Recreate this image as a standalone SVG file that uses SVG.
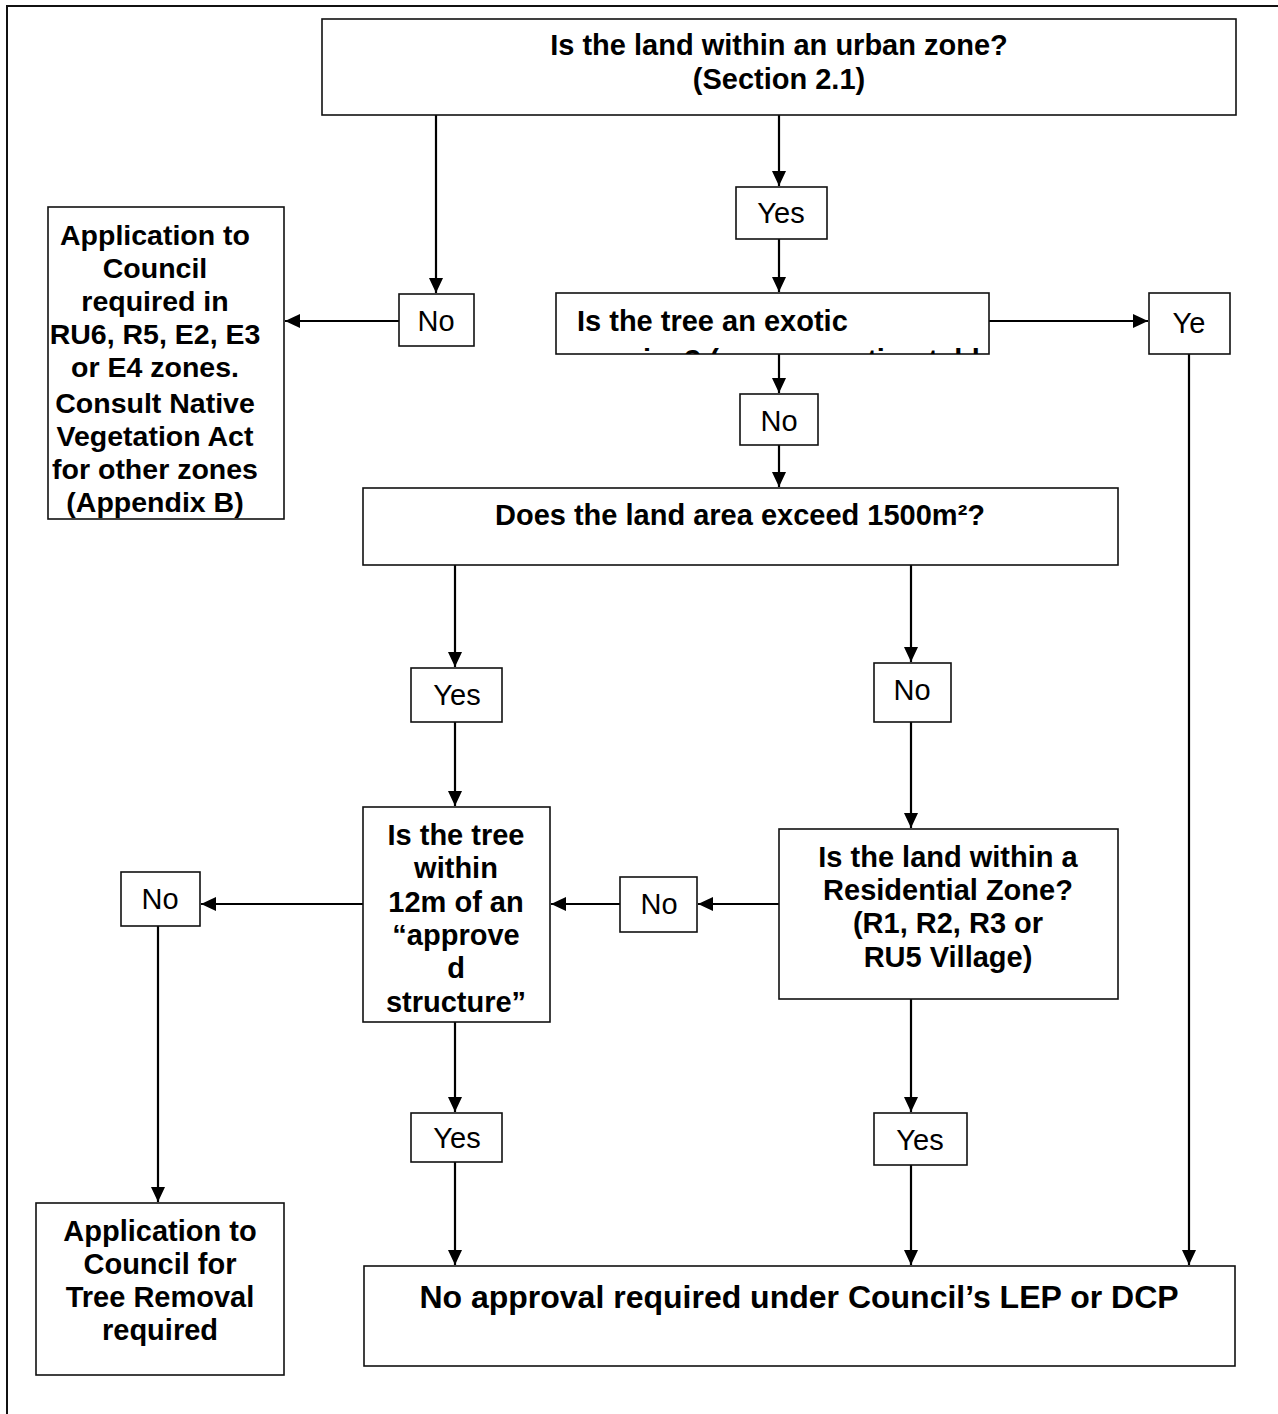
<svg xmlns="http://www.w3.org/2000/svg" width="1278" height="1414" viewBox="0 0 1278 1414">
<style>
.box{fill:#fff;stroke:#111;stroke-width:1.6}
.c{stroke:#000;stroke-width:2.2;fill:none}
.b{font-family:"Liberation Sans",Arial,sans-serif;font-weight:bold;font-size:29px;fill:#000;text-anchor:middle}
.bs{font-family:"Liberation Sans",Arial,sans-serif;font-weight:bold;font-size:29px;fill:#000}
.f{font-family:"Liberation Sans",Arial,sans-serif;font-weight:bold;font-size:32px;fill:#000;text-anchor:middle}
.l{font-family:"Liberation Sans",Arial,sans-serif;font-size:29px;fill:#000;text-anchor:middle}
</style>
<defs>
<marker id="ah" markerUnits="userSpaceOnUse" markerWidth="16" markerHeight="14" refX="15" refY="7" orient="auto">
<path d="M0,0 L15,7 L0,14 Z" fill="#000"/>
</marker>
<clipPath id="clipEx"><rect x="556" y="293" width="433" height="61"/></clipPath>
<clipPath id="clipApp"><rect x="48" y="207" width="236" height="312"/></clipPath>
</defs>
<path d="M7,1414 V6 H1278" fill="none" stroke="#111" stroke-width="2"/>

<g id="connectors">
<line class="c" x1="436" y1="115" x2="436" y2="293" marker-end="url(#ah)"/>
<line class="c" x1="399" y1="321" x2="285" y2="321" marker-end="url(#ah)"/>
<line class="c" x1="779" y1="115" x2="779" y2="186" marker-end="url(#ah)"/>
<line class="c" x1="779" y1="239" x2="779" y2="292" marker-end="url(#ah)"/>
<line class="c" x1="989" y1="321" x2="1148" y2="321" marker-end="url(#ah)"/>
<line class="c" x1="1189" y1="354" x2="1189" y2="1265" marker-end="url(#ah)"/>
<line class="c" x1="779" y1="354" x2="779" y2="393" marker-end="url(#ah)"/>
<line class="c" x1="779" y1="445" x2="779" y2="487" marker-end="url(#ah)"/>
<line class="c" x1="455" y1="565" x2="455" y2="667" marker-end="url(#ah)"/>
<line class="c" x1="455" y1="722" x2="455" y2="806" marker-end="url(#ah)"/>
<line class="c" x1="911" y1="565" x2="911" y2="662" marker-end="url(#ah)"/>
<line class="c" x1="911" y1="722" x2="911" y2="828" marker-end="url(#ah)"/>
<line class="c" x1="779" y1="904" x2="698" y2="904" marker-end="url(#ah)"/>
<line class="c" x1="620" y1="904" x2="551" y2="904" marker-end="url(#ah)"/>
<line class="c" x1="363" y1="904" x2="201" y2="904" marker-end="url(#ah)"/>
<line class="c" x1="158" y1="926" x2="158" y2="1202" marker-end="url(#ah)"/>
<line class="c" x1="455" y1="1022" x2="455" y2="1112" marker-end="url(#ah)"/>
<line class="c" x1="455" y1="1162" x2="455" y2="1265" marker-end="url(#ah)"/>
<line class="c" x1="911" y1="999" x2="911" y2="1112" marker-end="url(#ah)"/>
<line class="c" x1="911" y1="1165" x2="911" y2="1265" marker-end="url(#ah)"/>
</g>

<g id="n-urban">
<rect class="box" x="322" y="19" width="914" height="96"/>
<text class="b"><tspan x="779" y="55">Is the land within an urban zone?</tspan><tspan x="779" y="89">(Section 2.1)</tspan></text>
</g>
<g id="l-yes1">
<rect class="box" x="736" y="187" width="91" height="52"/>
<text class="l" x="781" y="223">Yes</text>
</g>
<g id="l-no1">
<rect class="box" x="399" y="294" width="75" height="52"/>
<text class="l" x="436" y="331">No</text>
</g>
<g id="n-app1">
<rect class="box" x="48" y="207" width="236" height="312"/>
<g clip-path="url(#clipApp)">
<text class="b" style="font-size:28.5px"><tspan x="155" y="245">Application to</tspan><tspan x="155" y="278">Council</tspan><tspan x="155" y="311">required in</tspan><tspan x="155" y="344">RU6, R5, E2, E3</tspan><tspan x="155" y="377">or E4 zones.</tspan><tspan x="155" y="413">Consult Native</tspan><tspan x="155" y="446">Vegetation Act</tspan><tspan x="155" y="479">for other zones</tspan><tspan x="155" y="512">(Appendix B)</tspan></text>
</g>
</g>
<g id="n-exotic">
<rect class="box" x="556" y="293" width="433" height="61"/>
<g clip-path="url(#clipEx)">
<text class="bs"><tspan x="577" y="331">Is the tree an exotic</tspan><tspan x="577" y="370">species? (see exemption table)</tspan></text>
</g>
</g>
<g id="l-ye">
<rect class="box" x="1149" y="293" width="81" height="61"/>
<text class="l" x="1189" y="333">Ye</text>
</g>
<g id="l-no2">
<rect class="box" x="740" y="394" width="78" height="51"/>
<text class="l" x="779" y="431">No</text>
</g>
<g id="n-area">
<rect class="box" x="363" y="488" width="755" height="77"/>
<text class="b" x="740" y="525">Does the land area exceed 1500m²?</text>
</g>
<g id="l-yes2">
<rect class="box" x="411" y="668" width="91" height="54"/>
<text class="l" x="457" y="705">Yes</text>
</g>
<g id="l-no3">
<rect class="box" x="874" y="663" width="77" height="59"/>
<text class="l" x="912" y="700">No</text>
</g>
<g id="n-structure">
<rect class="box" x="363" y="807" width="187" height="215"/>
<text class="b"><tspan x="456" y="845">Is the tree</tspan><tspan x="456" y="878">within</tspan><tspan x="456" y="912">12m of an</tspan><tspan x="456" y="945">“approve</tspan><tspan x="456" y="978">d</tspan><tspan x="456" y="1012">structure”</tspan></text>
</g>
<g id="n-residential">
<rect class="box" x="779" y="829" width="339" height="170"/>
<text class="b"><tspan x="948" y="867">Is the land within a</tspan><tspan x="948" y="900">Residential Zone?</tspan><tspan x="948" y="933">(R1, R2, R3 or</tspan><tspan x="948" y="967">RU5 Village)</tspan></text>
</g>
<g id="l-no4">
<rect class="box" x="620" y="877" width="77" height="55"/>
<text class="l" x="659" y="914">No</text>
</g>
<g id="l-no5">
<rect class="box" x="121" y="872" width="79" height="54"/>
<text class="l" x="160" y="909">No</text>
</g>
<g id="n-app2">
<rect class="box" x="36" y="1203" width="248" height="172"/>
<text class="b"><tspan x="160" y="1241">Application to</tspan><tspan x="160" y="1274">Council for</tspan><tspan x="160" y="1307">Tree Removal</tspan><tspan x="160" y="1340">required</tspan></text>
</g>
<g id="l-yes3">
<rect class="box" x="411" y="1113" width="91" height="49"/>
<text class="l" x="457" y="1148">Yes</text>
</g>
<g id="l-yes4">
<rect class="box" x="874" y="1113" width="93" height="52"/>
<text class="l" x="920" y="1150">Yes</text>
</g>
<g id="n-final">
<rect class="box" x="364" y="1266" width="871" height="100"/>
<text class="f" x="799" y="1308">No approval required under Council’s LEP or DCP</text>
</g>
</svg>
